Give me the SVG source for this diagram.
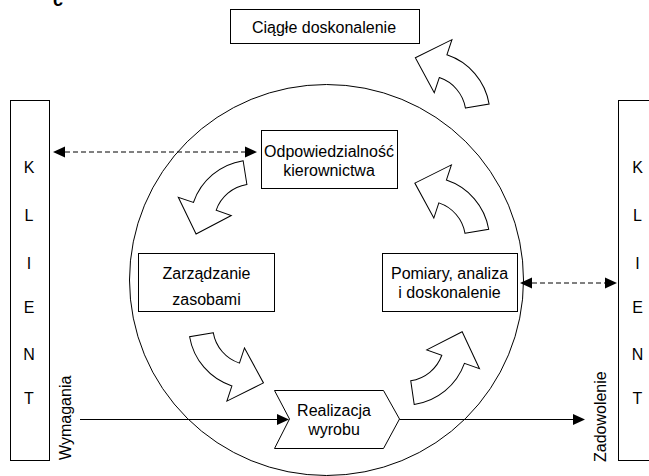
<svg xmlns="http://www.w3.org/2000/svg" width="649" height="476" viewBox="0 0 649 476">
<style>
.box{fill:#fff;stroke:#000;stroke-width:1}
.arc{fill:#fff;stroke:#000;stroke-width:1;stroke-linejoin:miter}
.t{font-family:"Liberation Sans",Arial,sans-serif;font-size:16px;fill:#000}
.c{text-anchor:middle}
.ln{fill:none;stroke:#000;stroke-width:1}
.dash{stroke-dasharray:5 3}
</style>
<defs>
<marker id="ah" viewBox="0 0 12 12" refX="0" refY="6" markerWidth="12" markerHeight="12" markerUnits="userSpaceOnUse" orient="auto-start-reverse">
<path d="M0,0.5 L12,6 L0,11.5 Z" fill="#000"/>
</marker>
<path id="carrow" d="M39 0 L63 0 A63 63 0 0 0 29.58 -55.63 L37.09 -69.75 L-2.02 -57.96 L10.80 -20.31 L18.31 -34.43 A39 39 0 0 1 39 0 Z"/>
</defs>
<rect width="649" height="476" fill="#fff"/>
<text class="t" x="53" y="6" style="font-weight:bold;font-size:18px">c</text>

<ellipse cx="326.5" cy="280" rx="197" ry="195.5" class="ln"/>

<g id="arrows">
<use href="#carrow" class="arc" transform="translate(427,114.6) rotate(-9.6)"/>
<use href="#carrow" class="arc" transform="translate(253,223) rotate(-99)"/>
<use href="#carrow" class="arc" transform="translate(251.7,326.1) rotate(170.3)"/>
<use href="#carrow" class="arc" transform="translate(405.1,342.1) rotate(81.7)"/>
<use href="#carrow" class="arc" transform="translate(426.6,239.9) rotate(-9.7)"/>
</g>

<g id="klient-left">
<rect class="box" x="10.5" y="100.5" width="39" height="360"/>
<text class="t c" x="29"><tspan x="29" y="172.5">K</tspan><tspan x="29" y="221">L</tspan><tspan x="29" y="268.8">I</tspan><tspan x="29" y="313.3">E</tspan><tspan x="29" y="360.3">N</tspan><tspan x="29" y="403.8">T</tspan></text>
</g>
<g id="klient-right">
<rect class="box" x="618.5" y="100.5" width="60" height="360"/>
<text class="t c" x="637.5"><tspan x="637.5" y="172.5">K</tspan><tspan x="637.5" y="221">L</tspan><tspan x="637.5" y="268.8">I</tspan><tspan x="637.5" y="313.3">E</tspan><tspan x="637.5" y="360.3">N</tspan><tspan x="637.5" y="403.8">T</tspan></text>
</g>

<g id="ciagle">
<rect class="box" x="230.5" y="9.5" width="189" height="34"/>
<text class="t c" x="324" y="33.3">Ciągłe doskonalenie</text>
</g>
<g id="odpowiedzialnosc">
<rect class="box" x="261.5" y="130.5" width="136" height="58"/>
<text class="t c"><tspan x="329" y="157">Odpowiedzialność</tspan><tspan x="329" y="176">kierownictwa</tspan></text>
</g>
<g id="zarzadzanie">
<rect class="box" x="138.5" y="253.5" width="136" height="58"/>
<text class="t c"><tspan x="206.5" y="279.3">Zarządzanie</tspan><tspan x="206.5" y="304.5">zasobami</tspan></text>
</g>
<g id="pomiary">
<rect class="box" x="382.5" y="253.5" width="135" height="58"/>
<text class="t c"><tspan x="449.5" y="279.3">Pomiary, analiza</tspan><tspan x="449.5" y="298.3">i doskonalenie</tspan></text>
</g>
<g id="realizacja">
<polygon class="box" points="274.5,390.5 383.5,390.5 399.5,419 383.5,448.5 274.5,448.5 289.5,419"/>
<text class="t c"><tspan x="334" y="415.7">Realizacja</tspan><tspan x="334" y="434.5">wyrobu</tspan></text>
</g>

<g id="connectors">
<line class="ln dash" x1="65" y1="152" x2="245" y2="152" marker-start="url(#ah)" marker-end="url(#ah)"/>
<line class="ln dash" x1="532" y1="283" x2="605" y2="283" marker-start="url(#ah)" marker-end="url(#ah)"/>
<line class="ln" x1="80" y1="419.5" x2="277" y2="419.5" marker-end="url(#ah)"/>
<line class="ln" x1="399.5" y1="419.5" x2="573" y2="419.5" marker-end="url(#ah)"/>
</g>

<text class="t" transform="translate(70.7,460) rotate(-90)">Wymagania</text>
<text class="t" transform="translate(606,462) rotate(-90)">Zadowolenie</text>
</svg>
